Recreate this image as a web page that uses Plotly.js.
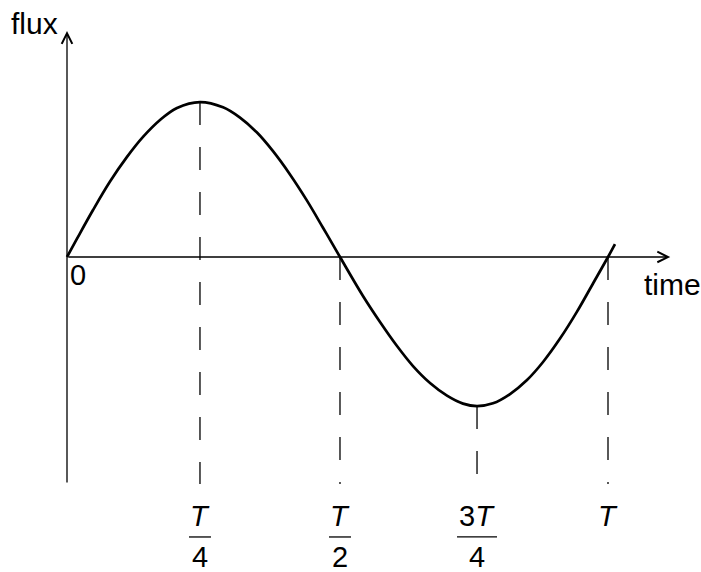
<!DOCTYPE html>
<html>
<head>
<meta charset="utf-8">
<script src="https://cdn.plot.ly/plotly-3.0.1.min.js"></script>
<style>
  html, body { margin: 0; padding: 0; background: #fff; }
  #graph { width: 701px; height: 572px; }
</style>
</head>
<body>
<div id="graph"></div>
<script>
// time in units of the period T, flux relative to its peak
var timeVals = [0, 0.0185, 0.0481, 0.0795, 0.1109, 0.1405, 0.1719, 0.2033, 0.2458,
                0.2884, 0.3198, 0.3512, 0.3808, 0.4122, 0.4436, 0.4732, 0.5046,
                0.5471, 0.5786, 0.6100, 0.6396, 0.6710, 0.7024, 0.7320, 0.7579,
                0.7874, 0.8189, 0.8503, 0.8799, 0.9113, 0.9427, 0.9723, 1.0, 1.0129];
var fluxVals = [0, 0.119, 0.305, 0.490, 0.650, 0.780, 0.890, 0.968, 1.006,
                0.972, 0.905, 0.808, 0.687, 0.536, 0.366, 0.190, 0,
                -0.253, -0.422, -0.578, -0.708, -0.818, -0.900, -0.952, -0.968,
                -0.950, -0.890, -0.799, -0.682, -0.530, -0.355, -0.172, 0, 0.084];

// quarter period marks
var tickPos = [0.2458, 0.5046, 0.7579, 1.0];
var tickFlux = [1.006, 0, -0.968, 0];   // where each dashed drop line starts
var tickNum = ["<i>T</i>", "<i>T</i>", "3<i>T</i>", "<i>T</i>"];
var tickDen = ["4", "2", "4", ""];
var barHalf = [11, 11, 20, 0];

var fontFam = "Arial, 'Liberation Sans', sans-serif";
var yBottom = -1.474;   // bottom of the flux axis
var yTop = 1.468;       // flux axis arrow tip
var xEnd = 1.115;       // time axis arrow tip

var curve = {
  type: "scatter",
  mode: "lines",
  x: timeVals,
  y: fluxVals,
  line: { color: "#000", width: 2.7, shape: "spline", smoothing: 1 },
  hoverinfo: "skip"
};

var shapes = [];
var annotations = [];

// dashed drop lines and fraction labels
tickPos.forEach(function (t, i) {
  shapes.push({
    type: "line", xref: "x", yref: "y",
    x0: t, x1: t, y0: tickFlux[i], y1: yBottom,
    line: { color: "#000", width: 1.3, dash: "23px,22px" }
  });
  annotations.push({
    xref: "x", yref: "y", x: t, y: -1.68,
    text: tickNum[i], showarrow: false,
    font: { family: fontFam, size: 29, color: "#000" }
  });
  if (tickDen[i] !== "") {
    annotations.push({
      xref: "x", yref: "y", x: t, y: -1.945,
      text: tickDen[i], showarrow: false,
      font: { family: fontFam, size: 29, color: "#000" }
    });
    shapes.push({
      type: "line", xref: "x", yref: "y", xsizemode: "pixel", xanchor: t,
      x0: -barHalf[i], x1: barHalf[i], y0: -1.818, y1: -1.818,
      line: { color: "#000", width: 1.3 }
    });
  }
});

// axes with open arrow heads
annotations.push({
  xref: "x", yref: "y", axref: "x", ayref: "y",
  x: 0, y: yTop, ax: 0, ay: yBottom, text: "",
  showarrow: true, arrowhead: 5, arrowsize: 1.6, arrowwidth: 1.3, arrowcolor: "#000"
});
annotations.push({
  xref: "x", yref: "y", axref: "x", ayref: "y",
  x: xEnd, y: 0, ax: 0, ay: 0, text: "",
  showarrow: true, arrowhead: 5, arrowsize: 1.6, arrowwidth: 1.3, arrowcolor: "#000"
});

// axis words
annotations.push({
  xref: "x", yref: "y", x: -0.107, y: 1.515, xanchor: "left",
  text: "flux", showarrow: false,
  font: { family: fontFam, size: 30, color: "#000" }
});
annotations.push({
  xref: "x", yref: "y", x: 1.062, y: -0.18, xanchor: "left",
  text: "time", showarrow: false,
  font: { family: fontFam, size: 30, color: "#000" }
});
annotations.push({
  xref: "x", yref: "y", x: 0.001, y: -0.12, xanchor: "left",
  text: "0", showarrow: false,
  font: { family: fontFam, size: 29, color: "#000" }
});

var layout = {
  width: 701,
  height: 572,
  margin: { l: 0, r: 0, t: 0, b: 0 },
  paper_bgcolor: "#fff",
  plot_bgcolor: "#fff",
  showlegend: false,
  xaxis: { range: [-0.12384, 1.17190], visible: false, fixedrange: true },
  yaxis: { range: [-2.0455, 1.6688], visible: false, fixedrange: true },
  shapes: shapes,
  annotations: annotations
};

Plotly.newPlot("graph", [curve], layout, { displayModeBar: false, staticPlot: true });
</script>
</body>
</html>
